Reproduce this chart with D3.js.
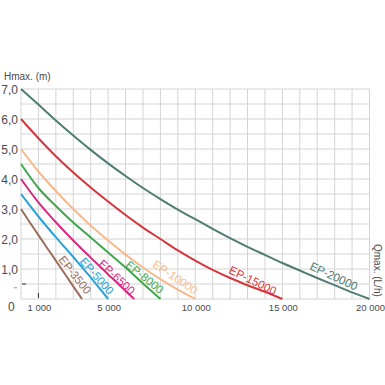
<!DOCTYPE html>
<html>
<head>
<meta charset="utf-8">
<script src="https://cdn.jsdelivr.net/npm/d3@7"></script>
<style>
  body { margin: 0; background: #fff; }
  svg text { font-family: "Liberation Sans", Arial, sans-serif; }
</style>
</head>
<body>
<div id="chart"></div>
<script>
// pump curves: flow in L/h, head in m
const ep3500 = [[0,3.0],[500,2.56],[1000,2.13],[1500,1.7],[2000,1.28],[2500,0.85],[3000,0.42],[3500,0]]
const ep5000 = [[0,3.5],[500,3.12],[1000,2.75],[1500,2.4],[2000,2.06],[2500,1.73],[3000,1.4],[3500,1.06],[4000,0.72],[4500,0.36],[5000,0]]
const ep6500 = [[0,4.0],[500,3.6],[1000,3.22],[1500,2.88],[2000,2.56],[2500,2.25],[3000,1.95],[3500,1.66],[4000,1.38],[4500,1.1],[5000,0.82],[5500,0.55],[6000,0.27],[6500,0]]
const ep8000 = [[0,4.5],[1000,3.7],[2000,3.1],[3000,2.55],[4000,2.05],[5000,1.55],[6000,1.05],[7000,0.52],[8000,0]]
const ep10000 = [[0,5.0],[1000,4.25],[2000,3.6],[3000,3.0],[4000,2.45],[5000,1.95],[6000,1.48],[7000,1.05],[8000,0.66],[9000,0.31],[10000,0]]
const ep15000 = [[0,6.0],[1000,5.36],[2000,4.76],[3000,4.22],[4000,3.72],[5000,3.25],[6000,2.8],[7000,2.38],[8000,2.0],[9000,1.62],[10000,1.28],[11000,0.97],[12000,0.7],[13000,0.46],[14000,0.24],[15000,0]]
const ep20000 = [[0,7.0],[1000,6.48],[2000,5.95],[3000,5.45],[4000,4.97],[5000,4.52],[6000,4.1],[7000,3.7],[8000,3.33],[9000,2.98],[10000,2.66],[11000,2.34],[12000,2.03],[13000,1.74],[14000,1.47],[15000,1.2],[16000,0.95],[17000,0.7],[18000,0.46],[19000,0.22],[20000,0]]

const seriesNames = ["EP-3500","EP-5000","EP-6500","EP-8000","EP-10000","EP-15000","EP-20000"]
const seriesData = [ep3500, ep5000, ep6500, ep8000, ep10000, ep15000, ep20000]

const yTicks = [1, 2, 3, 4, 5, 6, 7]
const yTickLabels = ["1,0","2,0","3,0","4,0","5,0","6,0","7,0"]
const xTicks = [1000, 5000, 10000, 15000, 20000]
const xTickLabels = ["1 000","5 000","10 000","15 000","20 000"]

// styling
const colors = ["#9b6d5a","#27a2d8","#d8287f","#40a74c","#f7b98b","#d5363d","#4f7c73"]
// label anchor (flow, head) and angle
const labelPos = [[3100,0.8,52],[4350,0.77,49],[5500,0.73,43],[7100,0.73,39],[8850,0.73,34],[13300,0.62,26],[17950,0.76,25]]

const W = 385, H = 385

let x = d3.scaleLinear().domain([0, 20000]).range([21, 369.5])
let y = d3.scaleLinear().domain([0, 7]).range([299, 89])

let svg = d3.select("#chart").append("svg")
  .attr("width", W)
  .attr("height", H)

// grid
svg.append("g")
  .selectAll("line")
  .data(d3.range(0, 20001, 1000))
  .join("line")
  .attr("x1", d => x(d)).attr("x2", d => x(d))
  .attr("y1", y(7)).attr("y2", y(0))
  .attr("stroke", "#d4d4d4")
  .attr("stroke-width", 1)

svg.append("g")
  .selectAll("line")
  .data(d3.range(0, 7.01, 0.5))
  .join("line")
  .attr("x1", x(0)).attr("x2", x(20000))
  .attr("y1", d => y(d)).attr("y2", d => y(d))
  .attr("stroke", "#d4d4d4")
  .attr("stroke-width", 1)

// y tick labels
svg.append("g")
  .selectAll("text")
  .data(yTicks)
  .join("text")
  .attr("x", 18)
  .attr("y", d => y(d) + 4.5)
  .attr("text-anchor", "end")
  .attr("font-size", 12)
  .attr("fill", "#4a4a4a")
  .text((d, i) => yTickLabels[i])

svg.append("text")
  .attr("x", 8).attr("y", 311)
  .attr("font-size", 12)
  .attr("fill", "#4a4a4a")
  .text("0")

svg.append("text")
  .attr("x", 14).attr("y", 292)
  .attr("font-size", 8)
  .attr("fill", "#555")
  .text("\"")

svg.append("line")
  .attr("x1", x(0) + 1).attr("x2", x(0) + 5)
  .attr("y1", y(0.5)).attr("y2", y(0.5))
  .attr("stroke", "#333")
  .attr("stroke-width", 1)

svg.append("line")
  .attr("x1", x(1000)).attr("x2", x(1000))
  .attr("y1", y(0) - 6).attr("y2", y(0) - 1)
  .attr("stroke", "#333")
  .attr("stroke-width", 1)

// x tick labels
svg.append("g")
  .selectAll("text")
  .data(xTicks)
  .join("text")
  .attr("x", d => x(d) + 1)
  .attr("y", 311)
  .attr("text-anchor", "middle")
  .attr("font-size", 9.5)
  .attr("fill", "#4a4a4a")
  .text((d, i) => xTickLabels[i])

// axis titles
svg.append("text")
  .attr("x", 4).attr("y", 80)
  .attr("font-size", 10)
  .attr("fill", "#4a4a4a")
  .text("Hmax. (m)")

svg.append("text")
  .attr("transform", "translate(374,244) rotate(90)")
  .attr("font-size", 10)
  .attr("fill", "#4a4a4a")
  .text("Qmax. (L/h)")

// curves
let line = d3.line()
  .x(d => x(d[0]))
  .y(d => y(d[1]))
  .curve(d3.curveMonotoneX)

svg.append("g")
  .selectAll("path")
  .data(seriesData)
  .join("path")
  .attr("d", line)
  .attr("fill", "none")
  .attr("stroke", (d, i) => colors[i])
  .attr("stroke-width", 2)

// curve labels
svg.append("g")
  .selectAll("text")
  .data(seriesNames)
  .join("text")
  .attr("transform", (d, i) => "translate(" + x(labelPos[i][0]) + "," + y(labelPos[i][1]) + ") rotate(" + labelPos[i][2] + ")")
  .attr("text-anchor", "middle")
  .attr("dy", "0.35em")
  .attr("font-size", 11.5)
  .attr("fill", (d, i) => colors[i])
  .text(d => d)
</script>
</body>
</html>
